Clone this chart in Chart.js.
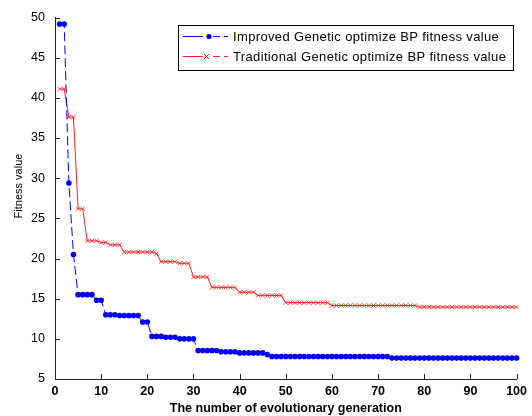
<!DOCTYPE html>
<html>
<head>
<meta charset="utf-8">
<script src="https://cdn.jsdelivr.net/npm/chart.js@4.4.1/dist/chart.umd.min.js"></script>
<style>
    html, body { margin: 0; padding: 0; background: #fff; }
    #wrap { width: 532px; height: 416px; }
</style>
</head>
<body>
<div id="wrap"><canvas id="myChart" width="532" height="416"></canvas></div>
<script>
// generation index 1..100
const generations = [
    1, 2, 3, 4, 5, 6, 7, 8, 9, 10, 11, 12, 13, 14, 15, 16, 17, 18, 19, 20,
    21, 22, 23, 24, 25, 26, 27, 28, 29, 30, 31, 32, 33, 34, 35, 36, 37, 38, 39, 40,
    41, 42, 43, 44, 45, 46, 47, 48, 49, 50, 51, 52, 53, 54, 55, 56, 57, 58, 59, 60,
    61, 62, 63, 64, 65, 66, 67, 68, 69, 70, 71, 72, 73, 74, 75, 76, 77, 78, 79, 80,
    81, 82, 83, 84, 85, 86, 87, 88, 89, 90, 91, 92, 93, 94, 95, 96, 97, 98, 99, 100
];

const improvedFitness = [
    49.2, 49.2, 29.4, 20.5, 15.5, 15.5, 15.5, 15.5, 14.8, 14.8,
    13.0, 13.0, 13.0, 12.9, 12.9, 12.9, 12.9, 12.9, 12.1, 12.1,
    10.3, 10.3, 10.3, 10.2, 10.2, 10.2, 10.0, 10.0, 10.0, 10.0,
    8.55, 8.55, 8.55, 8.55, 8.55, 8.4, 8.4, 8.4, 8.4, 8.25,
    8.25, 8.25, 8.25, 8.25, 8.25, 8.05, 7.8, 7.8, 7.8, 7.8,
    7.8, 7.8, 7.8, 7.8, 7.8, 7.8, 7.8, 7.8, 7.8, 7.8,
    7.8, 7.8, 7.8, 7.8, 7.8, 7.8, 7.8, 7.8, 7.8, 7.8,
    7.8, 7.8, 7.6, 7.6, 7.6, 7.6, 7.6, 7.6, 7.6, 7.6,
    7.6, 7.6, 7.6, 7.6, 7.6, 7.6, 7.6, 7.6, 7.6, 7.6,
    7.6, 7.6, 7.6, 7.6, 7.6, 7.6, 7.6, 7.6, 7.6, 7.6
];

const traditionalFitness = [
    41.1, 41.1, 37.6, 37.6, 26.2, 26.2, 22.2, 22.2, 22.2, 22.0,
    22.0, 21.7, 21.7, 21.7, 20.8, 20.8, 20.8, 20.8, 20.8, 20.8,
    20.8, 20.6, 19.6, 19.6, 19.6, 19.6, 19.4, 19.4, 19.4, 17.7,
    17.7, 17.7, 17.7, 16.4, 16.4, 16.4, 16.4, 16.4, 16.4, 15.8,
    15.8, 15.8, 15.8, 15.4, 15.4, 15.4, 15.4, 15.4, 15.4, 14.5,
    14.5, 14.5, 14.5, 14.5, 14.5, 14.5, 14.5, 14.5, 14.5, 14.15,
    14.15, 14.15, 14.15, 14.15, 14.15, 14.15, 14.15, 14.15, 14.15, 14.15,
    14.15, 14.15, 14.15, 14.15, 14.15, 14.15, 14.15, 14.15, 13.95, 13.95,
    13.95, 13.95, 13.95, 13.95, 13.95, 13.95, 13.95, 13.95, 13.95, 13.95,
    13.95, 13.95, 13.95, 13.95, 13.95, 13.95, 13.95, 13.95, 13.95, 13.95
];

const seriesNames = [
    'Improved Genetic optimize BP fitness value',
    'Traditional Genetic optimize BP fitness value'
];
const xTitle = 'The number of evolutionary generation';
const yTitle = 'Fitness value';
const xTicks = [0, 10, 20, 30, 40, 50, 60, 70, 80, 90, 100];
const yTicks = [5, 10, 15, 20, 25, 30, 35, 40, 45, 50];

const FONT = '"Liberation Sans", Arial, sans-serif';
const BLUE = '#0000ff';
const RED = '#ff2020';

// matlab style: short tick marks pointing into the plot
const innerTicks = {
    id: 'innerTicks',
    afterDatasetsDraw(chart) {
        const { ctx, chartArea, scales } = chart;
        ctx.save();
        ctx.strokeStyle = '#222';
        ctx.lineWidth = 1;
        ctx.beginPath();
        yTicks.forEach(v => {
            const y = Math.round(scales.y.getPixelForValue(v)) + 0.5;
            ctx.moveTo(chartArea.left, y);
            ctx.lineTo(chartArea.left + 5, y);
        });
        xTicks.forEach(v => {
            const x = Math.round(scales.x.getPixelForValue(v)) + 0.5;
            ctx.moveTo(x, chartArea.bottom);
            ctx.lineTo(x, chartArea.bottom - 5);
        });
        ctx.stroke();

        // y label sits a bit above the middle in the original figure
        ctx.translate(19, 186);
        ctx.rotate(-Math.PI / 2);
        ctx.fillStyle = '#000';
        ctx.font = '11px ' + FONT;
        ctx.textAlign = 'center';
        ctx.textBaseline = 'middle';
        ctx.fillText(yTitle, 0, 0);
        ctx.restore();
    }
};

const legendBox = {
    id: 'legendBox',
    afterDraw(chart) {
        const ctx = chart.ctx;
        const left = 178, top = 25, w = 335, h = 45;
        ctx.save();
        ctx.fillStyle = '#fff';
        ctx.fillRect(left, top, w, h);
        ctx.strokeStyle = '#000';
        ctx.lineWidth = 1;
        ctx.strokeRect(left + 0.5, top + 0.5, w, h);

        const rows = [36, 56];
        rows.forEach((y, i) => {
            const color = i === 0 ? BLUE : RED;
            ctx.strokeStyle = color;
            ctx.fillStyle = color;
            ctx.lineWidth = 1;
            ctx.beginPath();
            ctx.moveTo(183, y + 0.5); ctx.lineTo(203, y + 0.5);
            ctx.moveTo(213, y + 0.5); ctx.lineTo(220, y + 0.5);
            ctx.moveTo(224, y + 0.5); ctx.lineTo(228, y + 0.5);
            ctx.stroke();
            if (i === 0) {
                ctx.beginPath();
                ctx.arc(209, y + 0.5, 2.6, 0, Math.PI * 2);
                ctx.fill();
            } else {
                ctx.beginPath();
                ctx.moveTo(204, y - 2); ctx.lineTo(209, y + 3);
                ctx.moveTo(209, y - 2); ctx.lineTo(204, y + 3);
                ctx.stroke();
            }
            ctx.fillStyle = '#000';
            ctx.font = '13px ' + FONT;
            ctx.letterSpacing = '0.35px';
            ctx.textBaseline = 'middle';
            ctx.fillText(seriesNames[i], 233, y + 1);
        });
        ctx.restore();
    }
};

const ctx = document.getElementById('myChart');
const myChart = new Chart(ctx, { // eslint-disable-line
    type: 'line',
    data: {
        labels: generations,
        datasets: [{
            label: seriesNames[0],
            data: generations.map((g, i) => ({ x: g, y: improvedFitness[i] })),
            borderColor: BLUE,
            backgroundColor: BLUE,
            borderWidth: 1,
            borderDash: [9, 4],
            pointStyle: 'circle',
            pointRadius: 2.8,
            pointBorderWidth: 0,
            tension: 0
        },
        {
            label: seriesNames[1],
            data: generations.map((g, i) => ({ x: g, y: traditionalFitness[i] })),
            borderColor: RED,
            backgroundColor: RED,
            borderWidth: 1,
            pointStyle: 'crossRot',
            pointRadius: 3,
            pointBorderWidth: 0.8,
            tension: 0
        }]
    },
    options: {
        responsive: false,
        animation: false,
        events: [],
        clip: false,
        layout: { padding: { left: 0, right: 13, top: 17, bottom: 0 } },
        plugins: {
            legend: { display: false },
            tooltip: { enabled: false }
        },
        scales: {
            x: {
                type: 'linear',
                min: 0,
                max: 100,
                afterBuildTicks: scale => { scale.ticks = xTicks.map(v => ({ value: v })); },
                afterFit: scale => { scale.height = 37; },
                grid: { drawOnChartArea: false, drawTicks: false },
                border: { display: true, color: '#222', width: 1 },
                ticks: {
                    padding: 5,
                    color: '#000',
                    maxRotation: 0,
                    font: { family: FONT, size: 12.5, weight: 'bold' }
                },
                title: {
                    display: true,
                    text: xTitle,
                    color: '#000',
                    padding: { top: 0, bottom: 0 },
                    font: { family: FONT, size: 12.5, weight: 'bold' }
                }
            },
            y: {
                min: 5,
                max: 50,
                afterBuildTicks: scale => { scale.ticks = yTicks.map(v => ({ value: v })); },
                afterFit: scale => { scale.width = 55; },
                grid: { drawOnChartArea: false, drawTicks: false },
                border: { display: true, color: '#222', width: 1 },
                ticks: {
                    padding: 10,
                    color: '#000',
                    font: { family: FONT, size: 12.5 }
                }
            }
        }
    },
    plugins: [innerTicks, legendBox]
});
</script>
</body>
</html>
